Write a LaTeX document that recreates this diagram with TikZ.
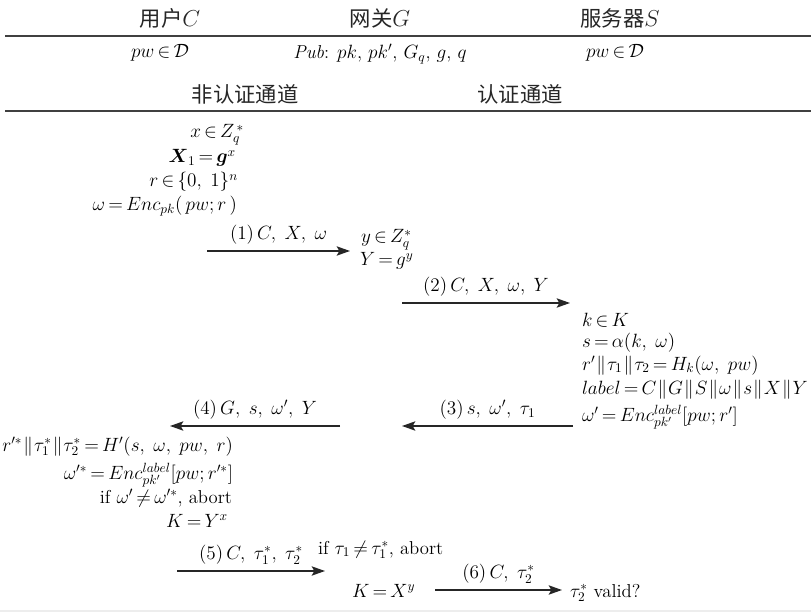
\documentclass[tikz,border=0pt]{standalone}
\usepackage{amsmath}
\usepackage{fontspec}
\newfontfamily\cjk{Noto Sans CJK SC}
\usetikzlibrary{arrows.meta}

% tighter relation spacing, as in the protocol listing
\thickmuskip=3mu plus 2mu
\newcommand\bodyfs{\fontsize{14}{16}\selectfont}
\newcommand\cjkfs{\cjk\fontsize{16}{18}\selectfont}
\newcommand\cat{\mkern1mu\|\mkern1mu}
\newcommand\cm{,\mkern5mu}

\begin{document}
\begin{tikzpicture}[x=0.75pt,y=-0.75pt,
  every node/.style={inner sep=0pt, outer sep=0pt, font=\bodyfs},
  rl/.style={anchor=base east},
  ll/.style={anchor=base west},
  msg/.style={line width=1.1pt, black!85, -{Stealth[length=10pt,width=7pt,inset=2pt]}},
  msglabel/.style={above=5pt, black},
  rule/.style={line width=1.4pt, black!75},
]
\useasboundingbox (0,0) rectangle (811,613);

% header: participants and public parameters
\node[font=\cjkfs, black!85] (hc) at (170,18) {用户$C$};
\node[font=\cjkfs, black!85] (hg) at (380,18) {网关$G$};
\node[font=\cjkfs, black!85] (hs) at (620,18) {服务器$S$};
\draw[rule] (5,36) -- (811,36);
\node (pc) at (160,53) {$pw\in\mathcal{D}$};
\node (pub) at (380,54) {$\mathit{Pub}$: $pk$, $pk'$, $G_q$, $g$, $q$};
\node (ps) at (615,53) {$pw\in\mathcal{D}$};
\node[font=\cjkfs, black!85] (ch1) at (245,94) {非认证通道};
\node[font=\cjkfs, black!85] (ch2) at (520,94) {认证通道};
\draw[rule] (5,111) -- (811,111);
\draw[black!7, line width=1pt] (0,611) -- (811,611);

% client: first flow
\node[rl] (c1) at (244,138) {$x\in Z_q^{\,*}$};
\node[rl] (c2) at (236,163) {$\boldsymbol{X}_1=\boldsymbol{g}^x$};
\node[rl] (c3) at (238,187) {$r\in\{0\cm 1\}^n$};
\node[rl] (c4) at (237,211) {$\omega=Enc_{pk}(\,pw;r\,)$};

\coordinate (a1s) at (207,251);
\coordinate (a1e) at (350,251);
\draw[msg] (a1s) -- node[msglabel] (l1) {$(1)\,C\cm X\cm \omega$} (a1e);

% gateway
\node[ll] (g1) at (361,243) {$y\in Z_q^{*}$};
\node[ll] (g2) at (360,266) {$Y=g^y$};

\coordinate (a2s) at (402,303);
\coordinate (a2e) at (570,303);
\draw[msg] (a2s) -- node[msglabel] (l2) {$(2)\,C\cm X\cm \omega\cm Y$} (a2e);

% server
\node[ll] (s1) at (582,326) {$k\in K$};
\node[ll] (s2) at (582,347) {$s=\alpha(k\cm \omega)$};
\node[ll] (s3) at (582,370) {$r'\cat\tau_1\cat\tau_2=H_k(\omega\cm pw)$};
\node[ll] (s4) at (582,394) {$label=C\cat G\cat S\cat\omega\cat s\cat X\cat Y$};
\node[ll] (s5) at (582,421) {$\omega'=Enc_{pk'}^{label}[pw;r']$};

\coordinate (a3s) at (573,426);
\coordinate (a3e) at (402,426);
\draw[msg] (a3s) -- node[msglabel] (l3) {$(3)\,s\cm \omega'\cm \tau_1$} (a3e);

\coordinate (a4s) at (340,426);
\coordinate (a4e) at (170,426);
\draw[msg] (a4s) -- node[msglabel] (l4) {$(4)\,G\cm s\cm \omega'\cm Y$} (a4e);

% client: verification
\node[rl] (c5) at (233,451) {$r'^{*}\cat\tau_1^{*}\cat\tau_2^{*}=H'(s\cm \omega\cm pw\cm r)$};
\node[rl] (c6) at (233,479) {$\omega'^{*}=Enc_{pk'}^{label}[pw;r'^{*}]$};
\node[rl] (c7) at (232,503) {if $\omega'\neq\omega'^{*}$, abort};
\node[rl] (c8) at (228,527) {$K=Y^x$};

\coordinate (a5s) at (177,571);
\coordinate (a5e) at (325,571);
\draw[msg] (a5s) -- node[msglabel] (l5) {$(5)\,C\cm \tau_1^{*}\cm \tau_2^{*}$} (a5e);

\node[ll] (g3) at (318,554) {if $\tau_1\neq\tau_1^{*}$, abort};
\node[ll] (g4) at (352,597) {$K=X^y$};

\coordinate (a6s) at (435,590);
\coordinate (a6e) at (562,590);
\draw[msg] (a6s) -- node[msglabel] (l6) {$(6)\,C\cm \tau_2^{*}$} (a6e);

\node[ll] (s6) at (570,597) {$\tau_2^{*}$ valid?};
\end{tikzpicture}
\end{document}
